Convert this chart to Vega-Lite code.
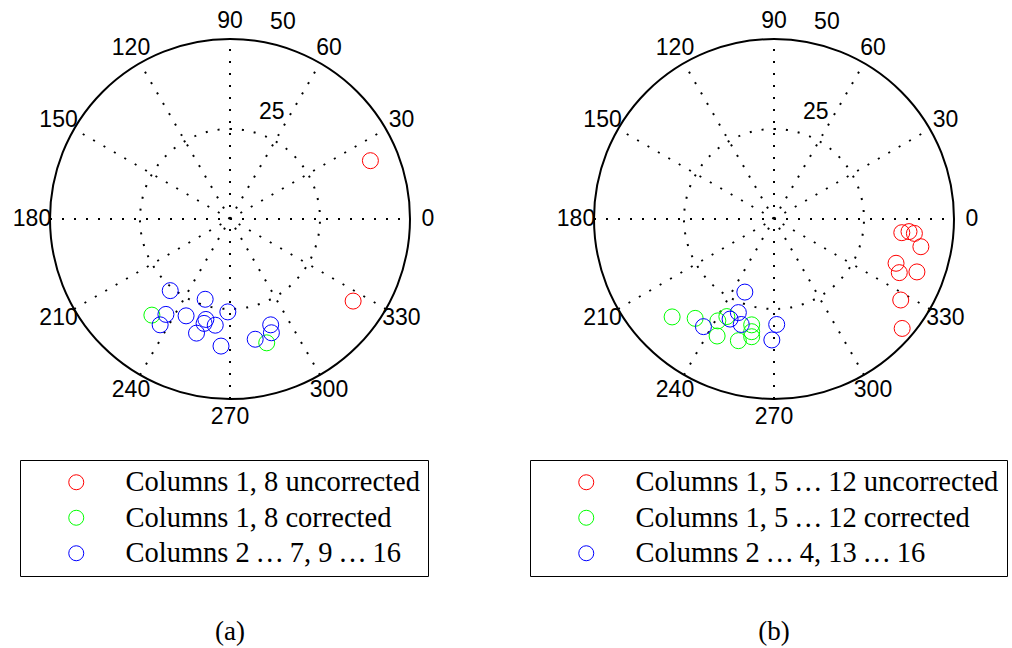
{
  "$schema": "https://vega.github.io/schema/vega-lite/v6.json",
  "padding": {"left": 5, "top": 3, "right": 5, "bottom": 3},
  "autosize": {"type": "pad"},
  "background": "white",
  "config": {"view": {"stroke": null}},
  "spacing": 94,
  "bounds": "flush",
  "datasets": {
    "outerCircle": [{"r": 50}],
    "innerCircle": [{"r": 25}],
    "spokes": [
      {"x": -50, "y": 0, "x2": 50, "y2": 0},
      {"x": -43.30, "y": -25, "x2": 43.30, "y2": 25},
      {"x": -25, "y": -43.30, "x2": 25, "y2": 43.30},
      {"x": 0, "y": -50, "x2": 0, "y2": 50},
      {"x": 25, "y": -43.30, "x2": -25, "y2": 43.30},
      {"x": 43.30, "y": -25, "x2": -43.30, "y2": 25}
    ],
    "angleLabels": [
      {"t": "0", "x": 55, "y": 0},
      {"t": "30", "x": 47.63, "y": 27.5},
      {"t": "60", "x": 27.5, "y": 47.63},
      {"t": "90", "x": 0, "y": 55},
      {"t": "120", "x": -27.5, "y": 47.63},
      {"t": "150", "x": -47.63, "y": 27.5},
      {"t": "180", "x": -55, "y": 0},
      {"t": "210", "x": -47.63, "y": -27.5},
      {"t": "240", "x": -27.5, "y": -47.63},
      {"t": "270", "x": 0, "y": -55},
      {"t": "300", "x": 27.5, "y": -47.63},
      {"t": "330", "x": 47.63, "y": -27.5}
    ],
    "rLabels": [
      {"t": "25", "x": 11.6, "y": 29.7},
      {"t": "50", "x": 14.7, "y": 54.6}
    ],
    "pointsA": [
      {"s": "Columns 1, 8 uncorrected", "x": 39.0, "y": 16.2},
      {"s": "Columns 1, 8 uncorrected", "x": 34.2, "y": -22.8},
      {"s": "Columns 1, 8 corrected", "x": -21.7, "y": -26.7},
      {"s": "Columns 1, 8 corrected", "x": 10.2, "y": -34.4},
      {"s": "Columns 2\u2009…\u20097, 9\u2009…\u200916", "x": -16.6, "y": -19.9},
      {"s": "Columns 2\u2009…\u20097, 9\u2009…\u200916", "x": -6.9, "y": -22.3},
      {"s": "Columns 2\u2009…\u20097, 9\u2009…\u200916", "x": -0.6, "y": -25.8},
      {"s": "Columns 2\u2009…\u20097, 9\u2009…\u200916", "x": -17.8, "y": -26.5},
      {"s": "Columns 2\u2009…\u20097, 9\u2009…\u200916", "x": -12.2, "y": -26.9},
      {"s": "Columns 2\u2009…\u20097, 9\u2009…\u200916", "x": -6.7, "y": -27.9},
      {"s": "Columns 2\u2009…\u20097, 9\u2009…\u200916", "x": -7.2, "y": -29.0},
      {"s": "Columns 2\u2009…\u20097, 9\u2009…\u200916", "x": -4.1, "y": -29.5},
      {"s": "Columns 2\u2009…\u20097, 9\u2009…\u200916", "x": -19.4, "y": -29.4},
      {"s": "Columns 2\u2009…\u20097, 9\u2009…\u200916", "x": -9.3, "y": -31.7},
      {"s": "Columns 2\u2009…\u20097, 9\u2009…\u200916", "x": -2.5, "y": -35.3},
      {"s": "Columns 2\u2009…\u20097, 9\u2009…\u200916", "x": 7.0, "y": -33.4},
      {"s": "Columns 2\u2009…\u20097, 9\u2009…\u200916", "x": 11.3, "y": -29.4},
      {"s": "Columns 2\u2009…\u20097, 9\u2009…\u200916", "x": 11.5, "y": -31.6}
    ],
    "pointsB": [
      {"s": "Columns 1, 5\u2009…\u200912 uncorrected", "x": 35.5, "y": -3.8},
      {"s": "Columns 1, 5\u2009…\u200912 uncorrected", "x": 37.5, "y": -3.5},
      {"s": "Columns 1, 5\u2009…\u200912 uncorrected", "x": 39.0, "y": -4.0},
      {"s": "Columns 1, 5\u2009…\u200912 uncorrected", "x": 40.8, "y": -7.7},
      {"s": "Columns 1, 5\u2009…\u200912 uncorrected", "x": 33.9, "y": -12.3},
      {"s": "Columns 1, 5\u2009…\u200912 uncorrected", "x": 34.8, "y": -14.9},
      {"s": "Columns 1, 5\u2009…\u200912 uncorrected", "x": 39.7, "y": -14.7},
      {"s": "Columns 1, 5\u2009…\u200912 uncorrected", "x": 35.2, "y": -22.5},
      {"s": "Columns 1, 5\u2009…\u200912 uncorrected", "x": 35.6, "y": -30.4},
      {"s": "Columns 1, 5\u2009…\u200912 corrected", "x": -28.3, "y": -27.2},
      {"s": "Columns 1, 5\u2009…\u200912 corrected", "x": -21.9, "y": -27.6},
      {"s": "Columns 1, 5\u2009…\u200912 corrected", "x": -15.6, "y": -28.3},
      {"s": "Columns 1, 5\u2009…\u200912 corrected", "x": -13.1, "y": -27.1},
      {"s": "Columns 1, 5\u2009…\u200912 corrected", "x": -6.2, "y": -29.4},
      {"s": "Columns 1, 5\u2009…\u200912 corrected", "x": -6.2, "y": -31.3},
      {"s": "Columns 1, 5\u2009…\u200912 corrected", "x": -15.8, "y": -32.5},
      {"s": "Columns 1, 5\u2009…\u200912 corrected", "x": -9.9, "y": -33.8},
      {"s": "Columns 1, 5\u2009…\u200912 corrected", "x": -6.2, "y": -32.7},
      {"s": "Columns 2\u2009…\u20094, 13\u2009…\u200916", "x": -8.1, "y": -20.3},
      {"s": "Columns 2\u2009…\u20094, 13\u2009…\u200916", "x": -9.9, "y": -26.0},
      {"s": "Columns 2\u2009…\u20094, 13\u2009…\u200916", "x": -12.2, "y": -27.8},
      {"s": "Columns 2\u2009…\u20094, 13\u2009…\u200916", "x": -9.1, "y": -29.3},
      {"s": "Columns 2\u2009…\u20094, 13\u2009…\u200916", "x": -19.6, "y": -29.9},
      {"s": "Columns 2\u2009…\u20094, 13\u2009…\u200916", "x": 0.75, "y": -29.3},
      {"s": "Columns 2\u2009…\u20094, 13\u2009…\u200916", "x": -0.6, "y": -33.6}
    ],
    "captionA": [{"t": "(a)", "x": 0, "y": -114.7}],
    "captionB": [{"t": "(b)", "x": 0, "y": -114.7}]
  },
  "hconcat": [
    {
      "width": 450,
      "height": 639,
      "layer": [
        {
          "data": {"name": "spokes"},
          "mark": {"type": "rule", "color": "black", "strokeWidth": 2, "strokeDash": [2, 10]},
          "encoding": {
            "x": {"field": "x", "type": "quantitative", "scale": {"domain": [-62.5, 62.5], "nice": false, "zero": false}, "axis": null},
            "y": {"field": "y", "type": "quantitative", "scale": {"domain": [-117.5, 60], "nice": false, "zero": false}, "axis": null},
            "x2": {"field": "x2"},
            "y2": {"field": "y2"}
          }
        },
        {
          "data": {"name": "innerCircle"},
          "mark": {"type": "arc", "filled": false, "stroke": "black", "strokeWidth": 2, "strokeDash": [2, 10], "theta": 0, "theta2": 6.2832},
          "encoding": {
            "x": {"datum": 0, "type": "quantitative"},
            "y": {"datum": 0, "type": "quantitative"},
            "radius": {"field": "r", "type": "quantitative", "scale": {"type": "linear", "domain": [0, 62.5], "range": [0, 225], "zero": true}}
          }
        },
        {
          "data": {"name": "outerCircle"},
          "mark": {"type": "arc", "filled": false, "stroke": "black", "strokeWidth": 2, "theta": 0, "theta2": 6.2832},
          "encoding": {
            "x": {"datum": 0, "type": "quantitative"},
            "y": {"datum": 0, "type": "quantitative"},
            "radius": {"field": "r", "type": "quantitative"}
          }
        },
        {
          "data": {"name": "angleLabels"},
          "mark": {"type": "text", "font": "Liberation Sans", "fontSize": 23, "color": "black", "align": "center", "baseline": "middle"},
          "encoding": {
            "x": {"field": "x", "type": "quantitative"},
            "y": {"field": "y", "type": "quantitative"},
            "text": {"field": "t"}
          }
        },
        {
          "data": {"name": "rLabels"},
          "mark": {"type": "text", "font": "Liberation Sans", "fontSize": 23, "color": "black", "align": "center", "baseline": "middle"},
          "encoding": {
            "x": {"field": "x", "type": "quantitative"},
            "y": {"field": "y", "type": "quantitative"},
            "text": {"field": "t"}
          }
        },
        {
          "data": {"name": "pointsA"},
          "mark": {"type": "point", "shape": "circle", "filled": false, "size": 256, "strokeWidth": 1, "opacity": 1},
          "encoding": {
            "x": {"field": "x", "type": "quantitative"},
            "y": {"field": "y", "type": "quantitative"},
            "color": {
              "field": "s", "type": "nominal",
              "scale": {"domain": ["Columns 1, 8 uncorrected", "Columns 1, 8 corrected", "Columns 2\u2009…\u20097, 9\u2009…\u200916"], "range": ["#ff0000", "#00ff00", "#0000ff"]},
              "legend": {"title": null, "orient": "none", "legendX": 15, "legendY": 457, "strokeColor": "black", "fillColor": "white", "padding": 8, "symbolOffset": 34, "labelOffset": 35, "labelFont": "Liberation Serif", "labelFontSize": 28.5, "labelColor": "black", "labelLimit": 700, "symbolType": "circle", "symbolSize": 225, "symbolStrokeWidth": 1, "rowPadding": 6.5, "cornerRadius": 0}
            }
          }
        },
        {
          "data": {"name": "captionA"},
          "mark": {"type": "text", "font": "Liberation Serif", "fontSize": 27, "color": "black", "align": "center", "baseline": "middle"},
          "encoding": {
            "x": {"field": "x", "type": "quantitative"},
            "y": {"field": "y", "type": "quantitative"},
            "text": {"field": "t"}
          }
        }
      ]
    },
    {
      "width": 450,
      "height": 639,
      "layer": [
        {
          "data": {"name": "spokes"},
          "mark": {"type": "rule", "color": "black", "strokeWidth": 2, "strokeDash": [2, 10]},
          "encoding": {
            "x": {"field": "x", "type": "quantitative", "scale": {"domain": [-62.5, 62.5], "nice": false, "zero": false}, "axis": null},
            "y": {"field": "y", "type": "quantitative", "scale": {"domain": [-117.5, 60], "nice": false, "zero": false}, "axis": null},
            "x2": {"field": "x2"},
            "y2": {"field": "y2"}
          }
        },
        {
          "data": {"name": "innerCircle"},
          "mark": {"type": "arc", "filled": false, "stroke": "black", "strokeWidth": 2, "strokeDash": [2, 10], "theta": 0, "theta2": 6.2832},
          "encoding": {
            "x": {"datum": 0, "type": "quantitative"},
            "y": {"datum": 0, "type": "quantitative"},
            "radius": {"field": "r", "type": "quantitative", "scale": {"type": "linear", "domain": [0, 62.5], "range": [0, 225], "zero": true}}
          }
        },
        {
          "data": {"name": "outerCircle"},
          "mark": {"type": "arc", "filled": false, "stroke": "black", "strokeWidth": 2, "theta": 0, "theta2": 6.2832},
          "encoding": {
            "x": {"datum": 0, "type": "quantitative"},
            "y": {"datum": 0, "type": "quantitative"},
            "radius": {"field": "r", "type": "quantitative"}
          }
        },
        {
          "data": {"name": "angleLabels"},
          "mark": {"type": "text", "font": "Liberation Sans", "fontSize": 23, "color": "black", "align": "center", "baseline": "middle"},
          "encoding": {
            "x": {"field": "x", "type": "quantitative"},
            "y": {"field": "y", "type": "quantitative"},
            "text": {"field": "t"}
          }
        },
        {
          "data": {"name": "rLabels"},
          "mark": {"type": "text", "font": "Liberation Sans", "fontSize": 23, "color": "black", "align": "center", "baseline": "middle"},
          "encoding": {
            "x": {"field": "x", "type": "quantitative"},
            "y": {"field": "y", "type": "quantitative"},
            "text": {"field": "t"}
          }
        },
        {
          "data": {"name": "pointsB"},
          "mark": {"type": "point", "shape": "circle", "filled": false, "size": 256, "strokeWidth": 1, "opacity": 1},
          "encoding": {
            "x": {"field": "x", "type": "quantitative"},
            "y": {"field": "y", "type": "quantitative"},
            "color": {
              "field": "s", "type": "nominal",
              "scale": {"domain": ["Columns 1, 5\u2009…\u200912 uncorrected", "Columns 1, 5\u2009…\u200912 corrected", "Columns 2\u2009…\u20094, 13\u2009…\u200916"], "range": ["#ff0000", "#00ff00", "#0000ff"]},
              "legend": {"title": null, "orient": "none", "legendX": -19, "legendY": 457, "strokeColor": "black", "fillColor": "white", "padding": 8, "symbolOffset": 34, "labelOffset": 35, "labelFont": "Liberation Serif", "labelFontSize": 28.5, "labelColor": "black", "labelLimit": 700, "symbolType": "circle", "symbolSize": 225, "symbolStrokeWidth": 1, "rowPadding": 6.5, "cornerRadius": 0}
            }
          }
        },
        {
          "data": {"name": "captionB"},
          "mark": {"type": "text", "font": "Liberation Serif", "fontSize": 27, "color": "black", "align": "center", "baseline": "middle"},
          "encoding": {
            "x": {"field": "x", "type": "quantitative"},
            "y": {"field": "y", "type": "quantitative"},
            "text": {"field": "t"}
          }
        }
      ]
    }
  ],
  "resolve": {"scale": {"color": "independent", "x": "independent", "y": "independent"}, "legend": {"color": "independent"}}
}
